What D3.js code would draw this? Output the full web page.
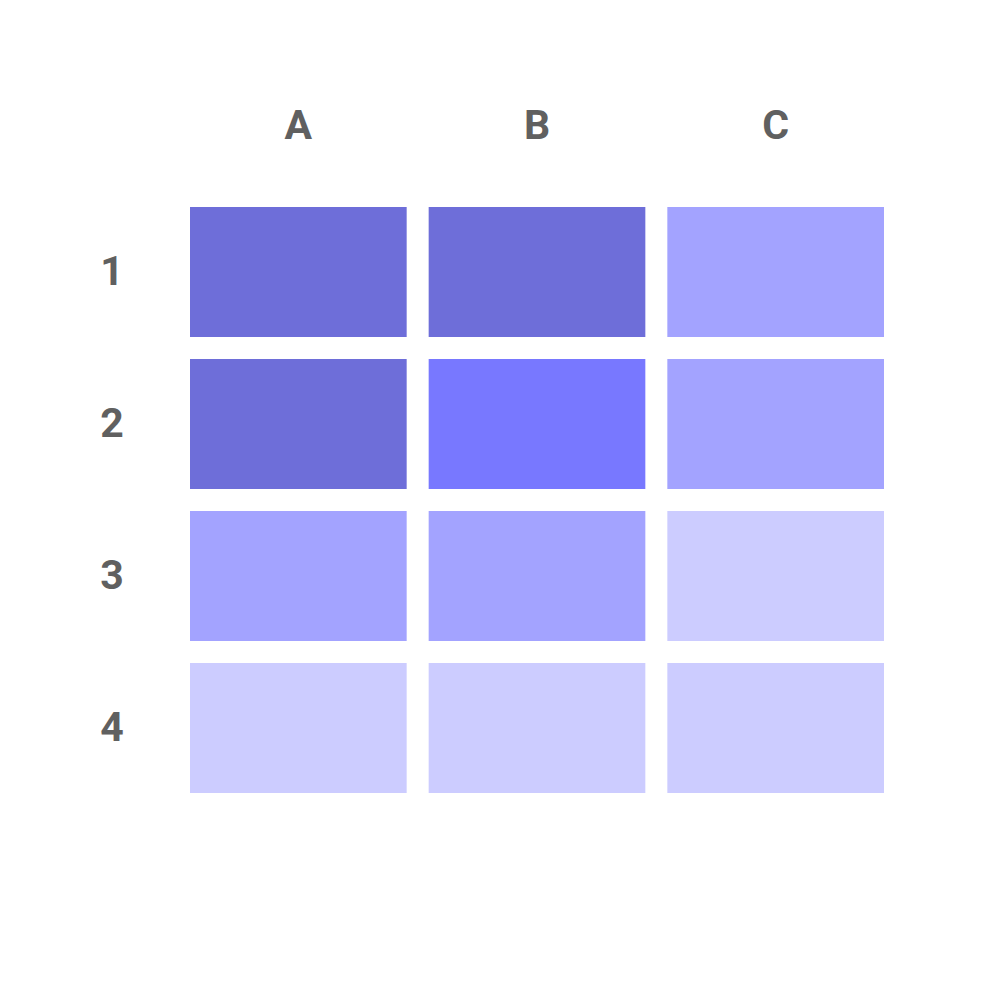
<!DOCTYPE html>
<html><head><meta charset="utf-8">
<script src="https://cdn.jsdelivr.net/npm/d3@7"></script>
<style>body{margin:0;background:#fff}</style>
</head><body>
<svg id="chart" width="1000" height="1000"></svg>
<script>
const columns = ["A", "B", "C"];
const rows = ["1", "2", "3", "4"];
// level of each cell, row by row
const values = [
  [4, 4, 2],
  [4, 3, 2],
  [2, 2, 1],
  [1, 1, 1]
];
const levels = [1, 2, 3, 4];
const levelColors = ["#ccccff", "#a3a3ff", "#7878ff", "#6e6ed9"];

const svg = d3.select("#chart");
const x = d3.scaleBand().domain(columns).range([190, 884]).paddingInner(22 / 238.67).paddingOuter(0);
const y = d3.scaleBand().domain(rows).range([207, 793]).paddingInner(22 / 152).paddingOuter(0);
const color = d3.scaleOrdinal().domain(levels).range(levelColors);

const cells = [];
rows.forEach((r, i) => columns.forEach((c, j) => cells.push({ r, c, v: values[i][j] })));

svg.append("g").selectAll("rect").data(cells).join("rect")
  .attr("x", d => x(d.c)).attr("y", d => y(d.r))
  .attr("width", x.bandwidth()).attr("height", y.bandwidth())
  .attr("fill", d => color(d.v));

const font = "Roboto, sans-serif";
svg.append("g").selectAll("text").data(columns).join("text")
  .attr("x", d => x(d) + x.bandwidth() / 2).attr("y", 139)
  .attr("text-anchor", "middle")
  .attr("font-family", font).attr("font-weight", "bold").attr("font-size", 41)
  .attr("fill", "#606060").text(d => d);

svg.append("g").selectAll("text").data(rows).join("text")
  .attr("x", 112).attr("y", d => y(d) + y.bandwidth() / 2)
  .attr("dy", "0.31em")
  .attr("text-anchor", "middle")
  .attr("font-family", font).attr("font-weight", "bold").attr("font-size", 41)
  .attr("fill", "#606060").text(d => d);
</script>
</body></html>
